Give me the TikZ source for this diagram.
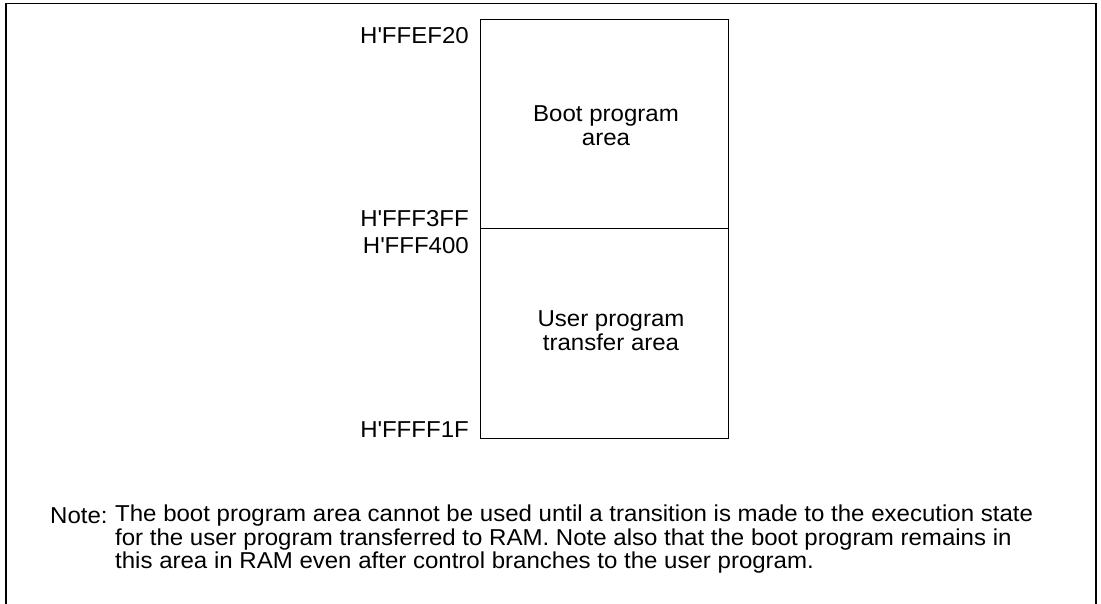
\documentclass[tikz,border=0pt]{standalone}
\usepackage{fontspec}
\setmainfont[FakeStretch=1.045]{Liberation Sans}
\usetikzlibrary{positioning, calc}
\newcommand{\hq}{H\textquotesingle}

\begin{document}
\begin{tikzpicture}[
  x=1pt, y=-1pt,
  font=\fontsize{23}{23.5}\selectfont,
  frame/.style={line width=1.8pt},
  region/.style={draw, line width=1pt, minimum width=248pt,
                 minimum height=209pt, inner sep=0pt, outer sep=0pt},
  addr/.style={inner sep=0pt},
  areatext/.style={align=center, inner sep=0pt},
]
\useasboundingbox (0,0) rectangle (1101,604);

% ---------- outer frame (open at the bottom) ----------
\coordinate (fbl) at (6,604);
\coordinate (ftl) at (6,3.5);
\coordinate (ftr) at (1096,3.5);
\coordinate (fbr) at (1096,604);
\draw[frame] (fbl) -- (ftl) -- (ftr) -- (fbr);

% ---------- memory map ----------
\node[region, anchor=north west] (boot) at (480,20) {};
\node[region, below=0pt of boot] (user) {};

\node[areatext] (boottxt) at ($(boot.center)+(2,1)$) {Boot program\\area};
\node[areatext] (usertxt) at ($(user.center)+(7,-3)$) {User program\\transfer area};

% ---------- addresses ----------
\node[addr, anchor=north east] (a1) at ($(boot.north west)+(-11,7)$) {\hq FFEF20};
\node[addr, anchor=south east] (a2) at ($(boot.south west)+(-11,-2)$) {\hq FFF3FF};
\node[addr, anchor=north east] (a3) at ($(user.north west)+(-11,8)$) {\hq FFF400};
\node[addr, anchor=south east] (a4) at ($(user.south west)+(-11,0)$) {\hq FFFF1F};

% ---------- note ----------
\node[inner sep=0pt, anchor=base west] (note) at (50,523) {Note:};
\node[inner sep=0pt, anchor=north west, align=left] (notetxt) at (115,505)
  {The boot program area cannot be used until a transition is made to the execution state\\
   for the user program transferred to RAM. Note also that the boot program remains in\\
   this area in RAM even after control branches to the user program.};

\end{tikzpicture}
\end{document}
